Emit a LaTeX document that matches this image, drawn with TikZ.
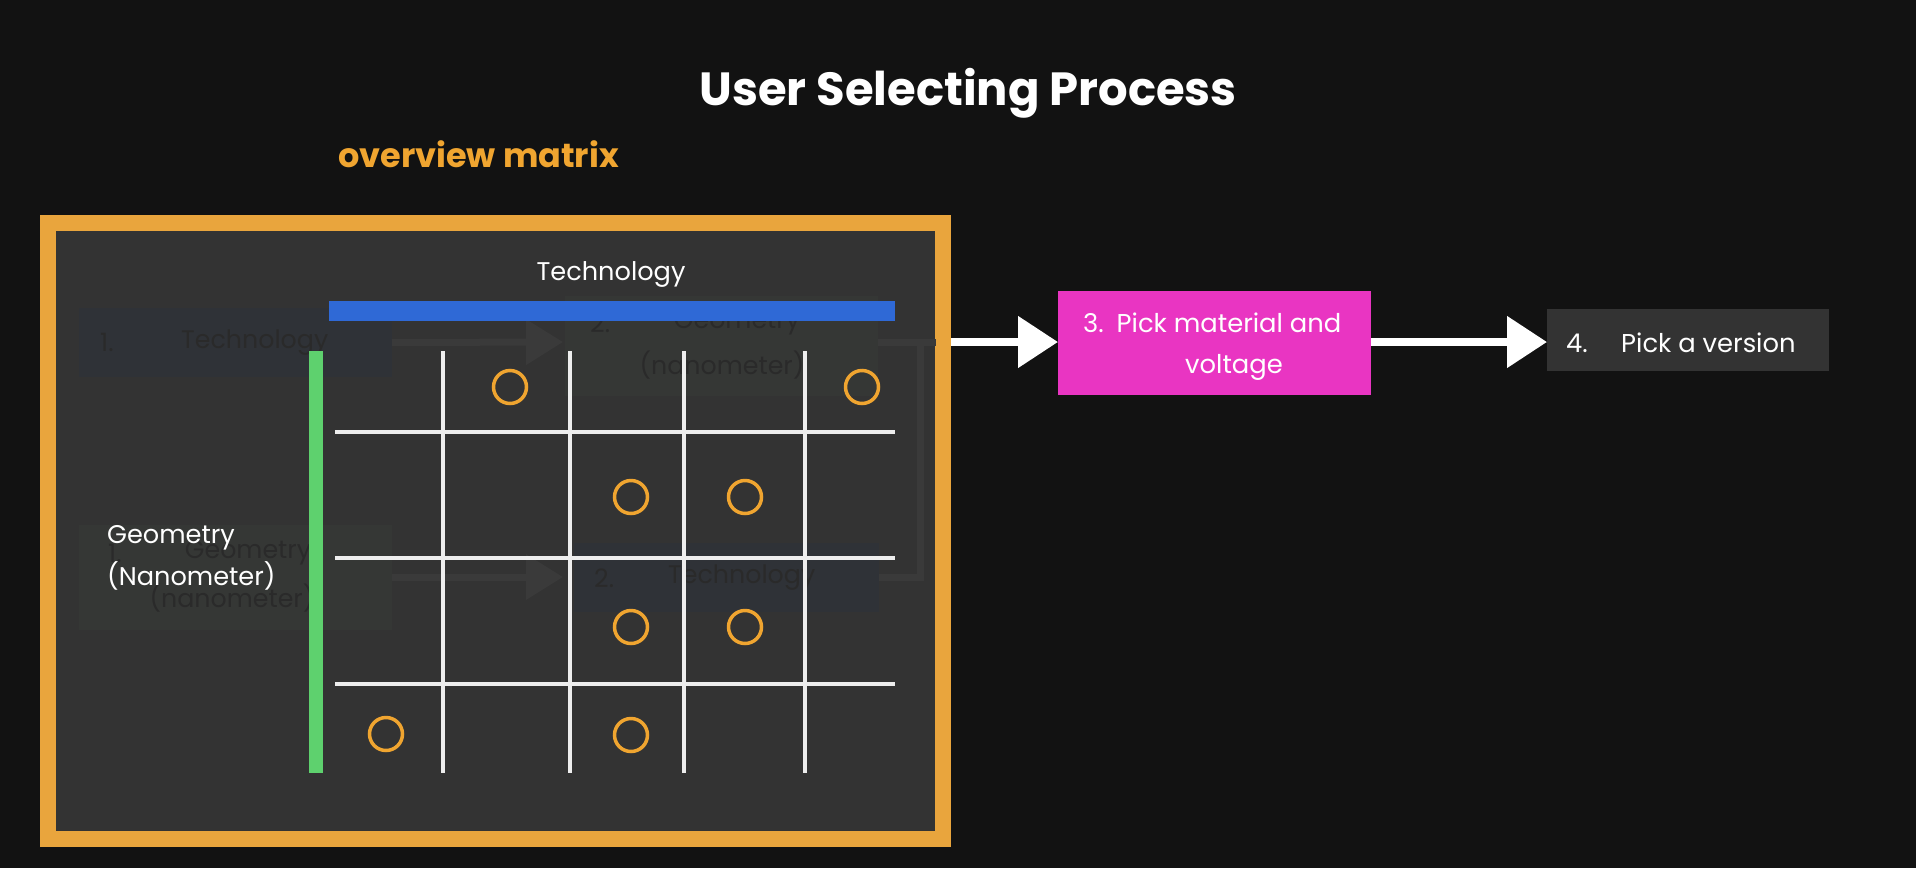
\documentclass[tikz,border=0pt]{standalone}
\usepackage{fontspec}
\setmainfont{Poppins}
\usetikzlibrary{arrows.meta}
\definecolor{bgc}{HTML}{121212}
\definecolor{panelc}{HTML}{333333}
\definecolor{framec}{HTML}{E9A53D}
\definecolor{circc}{HTML}{F0A530}
\definecolor{bluec}{HTML}{2F69D6}
\definecolor{greenc}{HTML}{5ED16E}
\definecolor{gridc}{HTML}{EEEEEE}
\definecolor{pinkc}{HTML}{E935C2}
\definecolor{ghostblue}{HTML}{2F3237}
\definecolor{ghostgreen}{HTML}{353735}
\definecolor{ghosttext}{HTML}{2A2A2A}
\definecolor{ghostline}{HTML}{3A3A3A}
\tikzset{
  ghosttxt/.style={text=ghosttext,font=\fontsize{25.3}{30}\selectfont,inner sep=0pt},
  ghostarrow/.style={draw=ghostline,line width=7pt,-{Triangle[length=37pt,width=44pt]}},
  ghostwire/.style={draw=ghostline,line width=7pt},
  gridline/.style={draw=gridc,line width=3.5pt},
  pick/.style={draw=circc,line width=3.5pt,circle,minimum size=33pt,inner sep=0pt},
  whitearrow/.style={draw=white,line width=8pt,-{Triangle[length=40pt,width=50pt]}},
  lbl/.style={text=white,font=\fontsize{25.6}{30}\selectfont,inner sep=0pt},
  boxtxt/.style={text=white,font=\fontsize{25.8}{30}\selectfont,inner sep=0pt}
}
\begin{document}
\begin{tikzpicture}[x=1pt,y=-1pt]
\useasboundingbox (0,0) rectangle (1916,868);
\fill[bgc] (0,0) rectangle (1916,868);

% titles
\node[text=white,font=\fontsize{46.5}{52}\selectfont\bfseries,anchor=base,inner sep=0pt] (title) at (968,105) {User Selecting Process};
\node[text=circc,font=\fontsize{33.5}{38}\selectfont\bfseries,anchor=base west,inner sep=0pt] (ovm) at (338,167) {overview matrix};

% frame
\draw[framec,line width=16pt,fill=panelc] (48,223) rectangle (943,838.5);

% ghost flow underneath
\fill[ghostblue] (79,308) rectangle (392,377);
\coordinate (g1w) at (79,342.5); \coordinate (g1e) at (392,342.5);
\node[ghosttxt,anchor=west] (g1n) at (100,342.5) {1.};
\node[ghosttxt,anchor=west] (g1t) at (181,342.5) {Technology};
\fill[ghostgreen] (565,296) rectangle (878,396);
\coordinate (g2w) at (565,342); \coordinate (g2e) at (878,342);
\node[ghosttxt,anchor=west] (g2n) at (590,323) {2.};
\node[ghosttxt] (g2t) at (737,323) {Geometry};
\node[ghosttxt] (g2u) at (722,365) {(nanometer)};
\fill[ghostgreen] (79,525) rectangle (392,630);
\coordinate (g3w) at (79,577); \coordinate (g3e) at (392,577);
\node[ghosttxt,anchor=west] (g3n) at (108,553) {1.};
\node[ghosttxt] (g3t) at (248,553) {Geometry};
\node[ghosttxt] (g3u) at (232,598) {(nanometer)};
\fill[ghostblue] (574,543) rectangle (879,612);
\coordinate (g4w) at (574,577); \coordinate (g4e) at (879,577);
\node[ghosttxt,anchor=west] (g4n) at (594,578) {2.};
\node[ghosttxt,anchor=west] (g4t) at (668,578) {Technology};
\draw[ghostarrow] (g1e) -- (563,342);
\draw[ghostarrow] (g3e) -- (563,577);
\coordinate (brk) at (920,342);
\draw[ghostwire] (g2e) -- (936,342);
\draw[ghostwire] (g4e) -- (920,577) -- (brk);

% axes
\fill[bluec] (329,301) rectangle (895,321);
\fill[greenc] (309,351) rectangle (323,773);
\node[lbl,anchor=base] (tech) at (611,280) {Technology};
\node[lbl,anchor=base west] (geo1) at (107,543) {Geometry};
\node[lbl,anchor=base west] (geo2) at (107,585) {(Nanometer)};

% grid
\foreach \x in {443,570,684,805} \draw[gridline] (\x,351) -- (\x,773);
\foreach \y in {432,558,684} \draw[gridline] (335,\y) -- (895,\y);

% picks
\node[pick] (c1) at (510,387) {};
\node[pick] (c2) at (862,387) {};
\node[pick] (c3) at (631,497) {};
\node[pick] (c4) at (745,497) {};
\node[pick] (c5) at (631,627) {};
\node[pick] (c6) at (745,627) {};
\node[pick] (c7) at (386,734) {};
\node[pick] (c8) at (631,735) {};

% flow
\fill[pinkc] (1058,291) rectangle (1371,395);
\coordinate (p3w) at (1058,342); \coordinate (p3e) at (1371,342);
\node[boxtxt,anchor=base west] (p3a) at (1083,332) {3.};
\node[boxtxt,anchor=base] (p3b) at (1229,332) {Pick material and};
\node[boxtxt,anchor=base] (p3c) at (1234,373) {voltage};
\fill[panelc] (1547,309) rectangle (1829,371);
\coordinate (p4w) at (1547,342);
\node[boxtxt,anchor=base west] (p4a) at (1566,352) {4.};
\node[boxtxt,anchor=base west] (p4b) at (1621,352) {Pick a version};
\coordinate (fr) at (951,342);
\draw[whitearrow] (fr) -- (p3w);
\draw[whitearrow] (p3e) -- (p4w);
\end{tikzpicture}
\end{document}
